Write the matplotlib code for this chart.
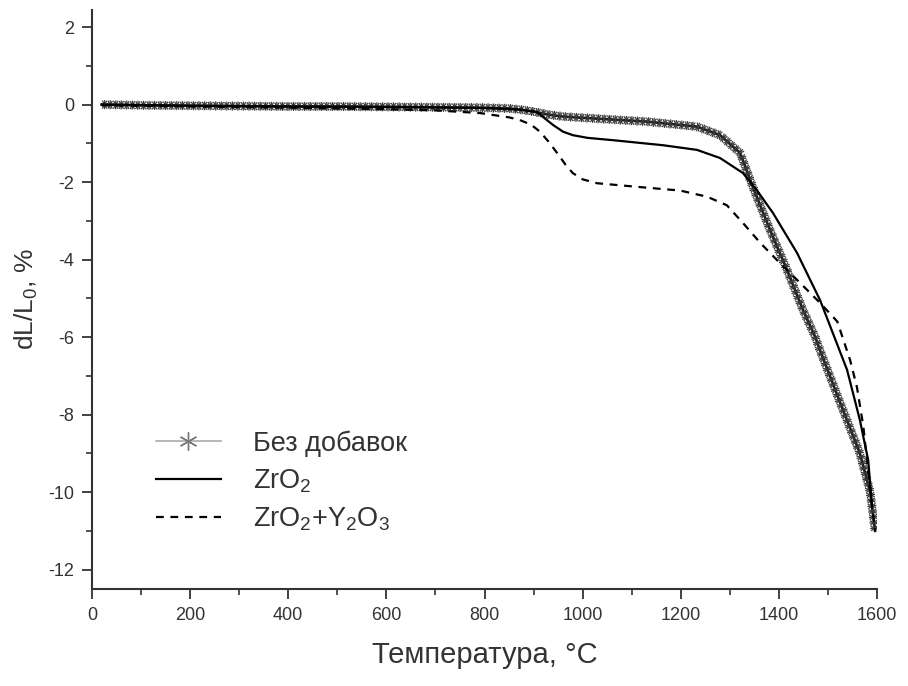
import matplotlib
matplotlib.use("Agg")
import matplotlib.pyplot as plt
import matplotlib.patheffects as pe
from matplotlib.lines import Line2D
from matplotlib.ticker import MultipleLocator

plt.rcParams['font.family'] = ['Liberation Sans', 'DejaVu Sans']
plt.rcParams['mathtext.fontset'] = 'custom'
plt.rcParams['mathtext.rm'] = 'Liberation Sans'
plt.rcParams['axes.unicode_minus'] = False

# Без добавок (со звёздочками)
x_pure = [20, 100, 200, 300, 400, 500, 600, 700, 791, 850, 880, 907, 930, 960,
          1050, 1131, 1233, 1280, 1321, 1347, 1382, 1417, 1449, 1474, 1484,
          1525, 1565, 1586, 1596]
y_pure = [0.0, -0.02, -0.03, -0.04, -0.05, -0.05, -0.06, -0.07, -0.08, -0.1,
          -0.14, -0.2, -0.26, -0.31, -0.38, -0.44, -0.57, -0.79, -1.25, -2.13,
          -3.24, -4.28, -5.3, -6.0, -6.35, -7.7, -9.0, -10.0, -11.0]

# ZrO2
x_zr = [20, 200, 400, 600, 800, 870, 907, 925, 940, 960, 980, 1010, 1062, 1164,
        1233, 1280, 1327, 1355, 1388, 1437, 1484, 1510, 1539, 1565, 1582, 1590]
y_zr = [0.0, -0.03, -0.05, -0.06, -0.09, -0.13, -0.19, -0.38, -0.53, -0.7,
        -0.79, -0.86, -0.92, -1.05, -1.17, -1.38, -1.77, -2.21, -2.8, -3.83,
        -5.05, -5.9, -6.85, -8.14, -9.18, -10.4]

# ZrO2 + Y2O3
x_zry = [20, 200, 400, 600, 700, 791, 850, 872, 895, 913, 930, 948, 965, 980,
         1000, 1029, 1117, 1199, 1254, 1294, 1327, 1362, 1402, 1443, 1484, 1519,
         1545, 1559, 1572, 1586, 1596]
y_zry = [-0.02, -0.05, -0.08, -0.12, -0.15, -0.22, -0.33, -0.4, -0.52, -0.7,
         -0.95, -1.25, -1.55, -1.77, -1.93, -2.03, -2.13, -2.22, -2.38, -2.6,
         -3.06, -3.57, -4.09, -4.6, -5.12, -5.6, -6.59, -7.29, -8.3, -9.95, -11.0]

labels = ['Без добавок', r'ZrO$_2$', r'ZrO$_2$+Y$_2$O$_3$']

fig = plt.figure(figsize=(9.08, 6.86), dpi=100)
ax = fig.add_axes([0.1013, 0.1415, 0.8646, 0.8445])

# плотные звёздочки вдоль кривой рисуем штрихами
stars = [pe.Normal()]
for a in (60, -60, 120, -120, 90, -90):
    stars.append(pe.TickedStroke(angle=a, spacing=4, length=0.7,
                                 linewidth=0.9, foreground='#3a3a3a'))
ax.plot(x_pure, y_pure, color='#222222', lw=2.0, path_effects=stars)
ax.plot(x_zr, y_zr, color='black', lw=1.6)
ax.plot(x_zry, y_zry, color='black', lw=1.6, ls=(0, (3.5, 3)))

ax.set_xlim(0, 1600)
ax.set_ylim(-12.5, 2.45)
ax.xaxis.set_major_locator(MultipleLocator(200))
ax.xaxis.set_minor_locator(MultipleLocator(100))
ax.yaxis.set_major_locator(MultipleLocator(2))
ax.yaxis.set_minor_locator(MultipleLocator(1))

for s in ['top', 'right']:
    ax.spines[s].set_visible(False)
for s in ['left', 'bottom']:
    ax.spines[s].set_linewidth(1.5)
    ax.spines[s].set_color('#333333')

ax.tick_params(which='major', direction='out', length=7, width=1.3,
               labelsize=13, colors='#333333', pad=6)
ax.tick_params(which='minor', direction='out', length=4, width=1.2,
               colors='#333333')

ax.set_xlabel('Температура, °C', fontsize=21, color='#333333', labelpad=12)
ax.set_ylabel(r'dL/L$_0$, %', fontsize=19, color='#333333', labelpad=6)

handles = [
    Line2D([], [], color='#aaaaaa', lw=1.2, marker=(6, 2, 0), ms=13,
           mec='#777777', mew=1.0),
    Line2D([], [], color='black', lw=1.6),
    Line2D([], [], color='black', lw=1.6, ls=(0, (3.5, 3))),
]
leg = ax.legend(handles, labels, loc='center left', bbox_to_anchor=(0.05, 0.185),
                frameon=False, fontsize=19.5, handlelength=2.4, handletextpad=1.2,
                labelspacing=0.4)
for t in leg.get_texts():
    t.set_color('#333333')

fig.savefig('out.png', dpi=100)
